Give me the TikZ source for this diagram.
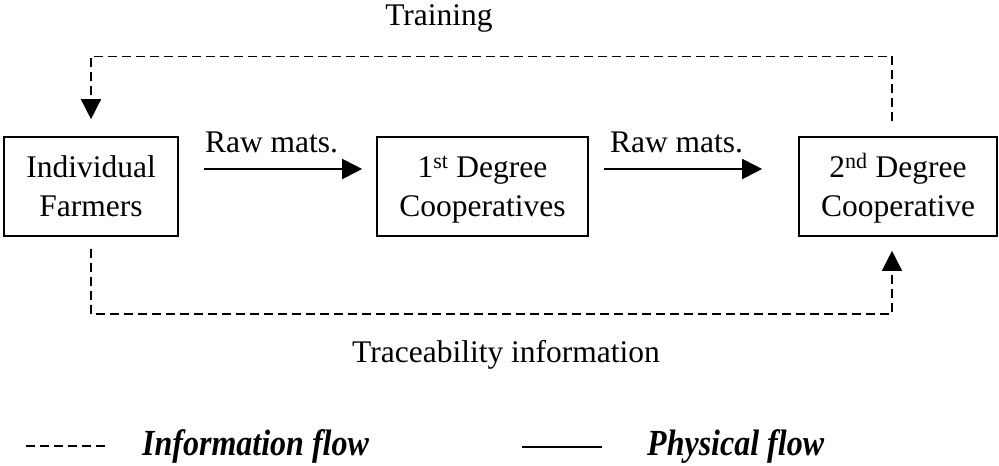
\documentclass[tikz,border=0pt]{standalone}
\usepackage{fontspec}
\setmainfont{Liberation Serif}
\usetikzlibrary{arrows.meta}
\newcommand{\myhstrut}{\rule{0pt}{29pt}}
\newcommand{\mydstrut}{\rule[-7.5pt]{0pt}{7.5pt}}
\begin{document}
\begin{tikzpicture}[x=1pt,y=-1pt,
  every node/.style={inner sep=0pt, font=\fontsize{31.5}{39}\selectfont},
  box/.style={draw, line width=1.6pt, align=center, minimum height=99pt},
  phys/.style={line width=1.8pt, -{Triangle[length=20pt,width=20pt]}},
  info/.style={line width=1.4pt, dash pattern=on 9pt off 5pt, -{Triangle[length=20pt,width=20pt]}},
  lbl/.style={anchor=base},
  legtext/.style={anchor=base west, font=\fontsize{32}{38}\selectfont\bfseries\itshape}
]
\useasboundingbox (0,0) rectangle (999,466);

\node[box, minimum width=174pt] (b1) at (91,186.5) {\myhstrut Individual\\Farmers\mydstrut};
\node[box, minimum width=211pt] (b2) at (482.5,186.5) {\myhstrut 1\textsuperscript{st} Degree\\Cooperatives\mydstrut};
\node[box, minimum width=198pt] (b3) at (898,186.5) {\myhstrut 2\textsuperscript{nd} Degree\\Cooperative\mydstrut};

\draw[phys, shorten <=25pt, shorten >=14pt] (b1.east |- 0,169) -- (b2.west |- 0,169);
\draw[phys, shorten <=15pt, shorten >=36pt] (b2.east |- 0,169) -- (b3.west |- 0,169);

\node[lbl] (rm1) at (271.5,152) {Raw mats.};
\node[lbl] (rm2) at (676.5,152) {Raw mats.};

\draw[info] ([xshift=-6pt,yshift=15pt]b3.north) -- ++(0,-65) -| ([yshift=17pt]b1.north);
\draw[info] ([yshift=-12pt]b1.south) -- ++(0,65) -| ([xshift=-6pt,yshift=-14pt]b3.south);

\node[lbl] (train) at (439,25) {Training};
\node[lbl] (trace) at (506,362) {Traceability information};

\coordinate (l1a) at (26,446);
\coordinate (l1b) at (107,446);
\coordinate (l2a) at (522,447);
\coordinate (l2b) at (602,447);
\draw[line width=1.4pt, dash pattern=on 9pt off 5pt] (l1a) -- (l1b);
\draw[line width=1.8pt] (l2a) -- (l2b);
\node[legtext] (leg1) at (142,455) {\scalebox{1}[1.15]{Information flow}};
\node[legtext] (leg2) at (647,455) {\scalebox{1}[1.15]{Physical flow}};
\end{tikzpicture}
\end{document}
